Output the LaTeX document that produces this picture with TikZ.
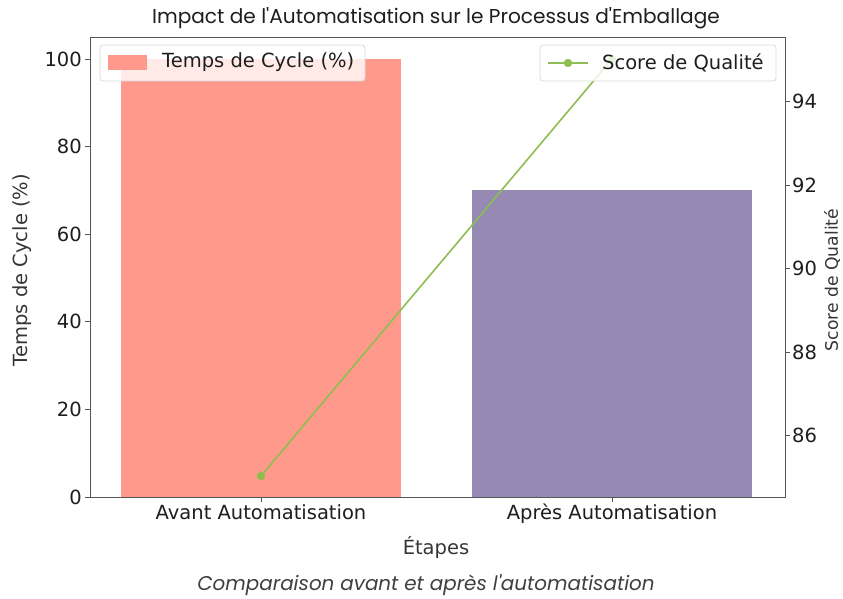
\documentclass[tikz,border=0pt]{standalone}
\usepackage{fontspec}
\setmainfont{DejaVu Sans}
\newfontfamily\capfont{Poppins}
\definecolor{barred}{RGB}{255,153,140}
\definecolor{barpurple}{RGB}{150,137,179}
\definecolor{linegreen}{RGB}{141,190,80}
\definecolor{axisgray}{RGB}{85,85,85}
\definecolor{txt}{RGB}{30,30,30}
\begin{document}
\begin{tikzpicture}[x=1pt,y=-1pt,
  ticklab/.style={font=\fontsize{19.5}{21}\selectfont, text=txt, inner sep=0pt},
  axlab/.style={font=\fontsize{19.5}{21}\selectfont, text=txt!90, inner sep=0pt},
  legbox/.style={draw=black!15, fill=white, fill opacity=0.8, rounded corners=3pt, line width=0.8pt},
  legtext/.style={font=\fontsize{19.5}{21}\selectfont, text=txt, inner sep=0pt, anchor=west},
  tickline/.style={draw=axisgray, line width=0.8pt}]
\useasboundingbox (0,0) rectangle (843,599);
\fill[white] (0,0) rectangle (843,599);
% title
\node[font=\capfont\fontsize{20.1}{22}\selectfont, text=txt, inner sep=0pt] (title) at (436,18) {Impact de l\textquotesingle Automatisation sur le Processus d\textquotesingle Emballage};
% bars
\fill[barred] (121,59) rectangle (401,497);
\fill[barpurple] (472,190.4) rectangle (752,497);
% quality line
\coordinate (p1) at (261,476);
\coordinate (p2) at (612,59);
\draw[linegreen, line width=1.6pt] (p1) -- (p2);
\fill[linegreen] (p1) circle (4.2);
\fill[linegreen] (p2) circle (4.2);
% frame
\draw[axisgray, line width=0.8pt] (90,37) rectangle (785,497);
% left ticks
\foreach \v in {0,20,40,60,80,100}{
  \pgfmathsetmacro{\yy}{497-4.38*\v}
  \draw[tickline] (90,\yy) -- (85,\yy);
  \node[ticklab, anchor=east] (l\v) at (82,\yy) {\v};
}
% right ticks
\foreach \v/\yy in {86/435,88/352,90/268,92/185,94/101}{
  \draw[tickline] (785,\yy) -- (790,\yy);
  \node[ticklab, anchor=west] (r\v) at (792,\yy) {\v};
}
% x ticks
\draw[tickline] (261,497) -- (261,502);
\draw[tickline] (612,497) -- (612,502);
\node[ticklab, anchor=north] (xa) at (261,504) {Avant Automatisation};
\node[ticklab, anchor=north] (xb) at (612,504) {Après Automatisation};
% axis labels
\node[axlab] (xlab) at (436,547) {Étapes};
\node[axlab, rotate=90] (ylab) at (22,270) {Temps de Cycle (\%)};
\node[font=\fontsize{17.2}{19}\selectfont, text=txt!90, inner sep=0pt, rotate=90] (y2lab) at (832,280) {Score de Qualité};
% legends
\draw[legbox] (100,45) rectangle (365,81);
\fill[barred] (108,55) rectangle (147,70);
\node[legtext] (leg1) at (162,62.5) {Temps de Cycle (\%)};
\draw[legbox] (540,45) rectangle (776,81);
\coordinate (la) at (548,63);
\coordinate (lb) at (588,63);
\draw[linegreen, line width=1.6pt] (la) -- (lb);
\fill[linegreen] (568,63) circle (4.2);
\node[legtext] (leg2) at (602,62.5) {Score de Qualité};
% caption
\node[font=\capfont\itshape\fontsize{19.9}{21}\selectfont, text=txt!85, inner sep=0pt] (cap) at (426,585) {Comparaison avant et après l\textquotesingle automatisation};
\end{tikzpicture}
\end{document}
